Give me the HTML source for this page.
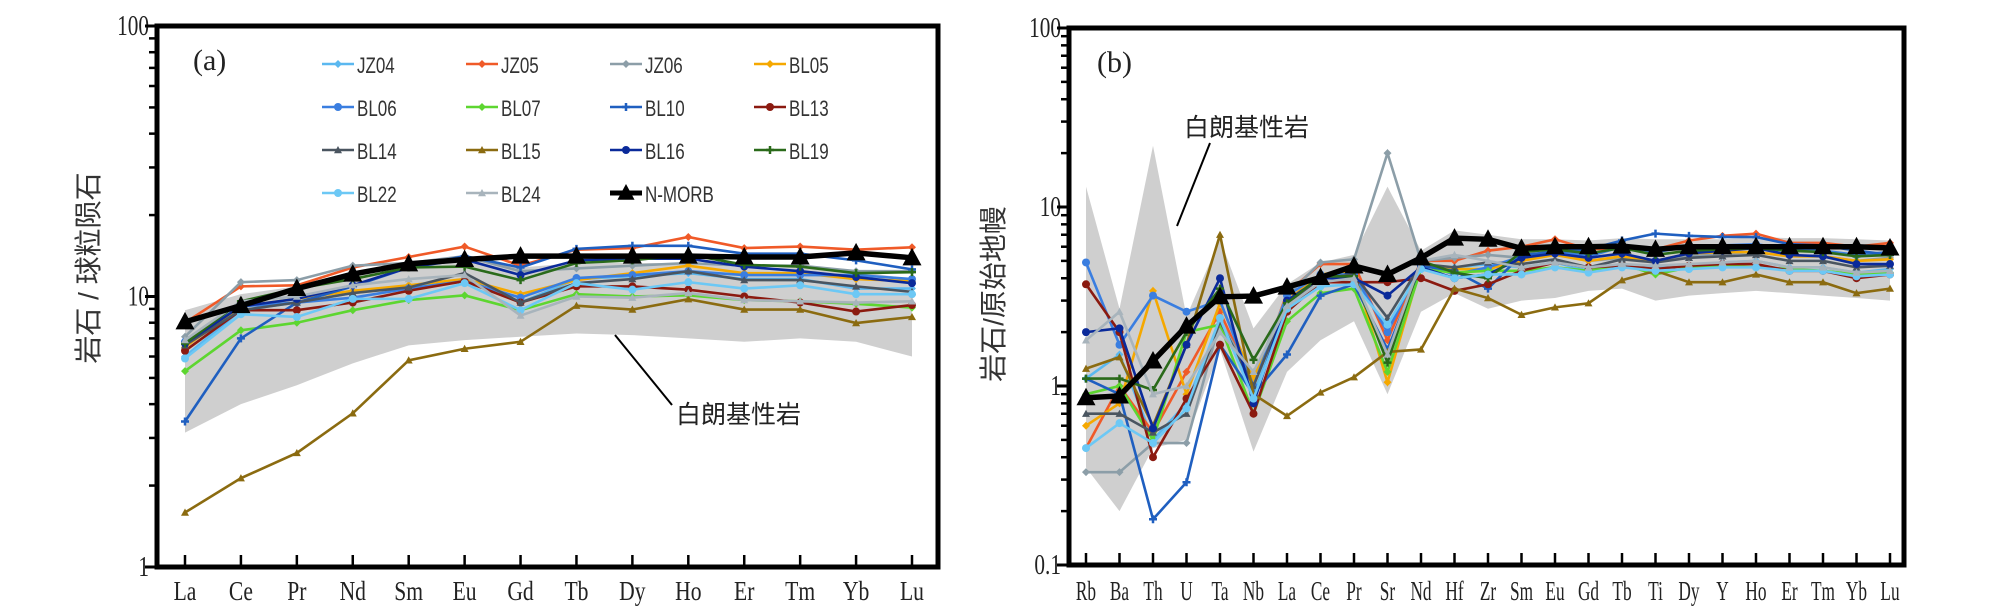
<!DOCTYPE html>
<html><head><meta charset="utf-8"><style>
html,body{margin:0;padding:0;background:#fff;width:2008px;height:607px;overflow:hidden}
svg{display:block}
</style></head><body>
<svg id="c" width="2008" height="607" xmlns="http://www.w3.org/2000/svg"></svg>
<script>
const reeCats=["La","Ce","Pr","Nd","Sm","Eu","Gd","Tb","Dy","Ho","Er","Tm","Yb","Lu"];
const spiderCats=["Rb","Ba","Th","U","Ta","Nb","La","Ce","Pr","Sr","Nd","Hf","Zr","Sm","Eu","Gd","Tb","Ti","Dy","Y","Ho","Er","Tm","Yb","Lu"];
const seriesNames=["JZ04","JZ05","JZ06","BL05","BL06","BL07","BL10","BL13","BL14","BL15","BL16","BL19","BL22","BL24"];
const seriesColors=["#5bb8f0","#f05a28","#8c9ea8","#f5a800","#3a7ee0","#5dd630","#1f5fc0","#8b1a10","#4a5560","#8b6b10","#0a2a9a","#2a6a1a","#6cc8f5","#a8b4bc"];
const seriesMarkers=["d","d","d","d","o","d","+","o","t","t","o","+","o","t"];
const reeJZ04=[6.0,8.9,9.5,10.3,10.9,11.6,9.5,11.6,11.9,12.2,11.6,11.6,10.7,10.7];
const reeJZ05=[8.0,10.9,11.0,12.8,14.0,15.3,13.0,14.9,15.1,16.6,15.1,15.3,14.9,15.2];
const reeJZ06=[7.1,11.3,11.5,13.0,13.3,14.1,12.4,12.7,13.0,13.3,13.0,13.0,12.4,12.4];
const reeBL05=[6.5,9.2,9.8,10.5,11.0,11.6,10.2,11.5,12.2,13.0,12.2,12.2,11.6,11.4];
const reeBL06=[6.8,9.2,9.5,9.9,10.7,11.4,9.9,11.7,12.0,12.4,12.0,12.0,12.0,11.6];
const reeBL07=[5.3,7.5,8.0,8.9,9.7,10.1,8.9,10.2,10.0,10.1,9.7,9.6,9.4,9.1];
const reeBL10=[3.45,7.0,9.5,10.9,12.8,14.1,12.8,15.0,15.4,15.4,14.4,14.4,13.6,12.6];
const reeBL13=[6.3,8.9,8.9,9.5,10.5,11.4,9.5,10.9,10.9,10.6,10.0,9.5,8.8,9.3];
const reeBL14=[6.6,8.9,9.5,10.3,10.8,12.2,9.5,11.2,11.6,12.4,11.5,11.5,10.9,10.4];
const reeBL15=[1.59,2.13,2.64,3.70,5.81,6.41,6.80,9.25,8.95,9.77,8.95,8.95,7.98,8.4];
const reeBL16=[6.7,9.2,9.8,11.0,12.8,13.7,12.0,13.6,13.8,13.8,12.9,12.4,11.8,11.2];
const reeBL19=[6.7,9.6,10.7,11.6,12.8,12.9,11.5,13.3,13.6,14.3,13.1,12.9,12.2,12.3];
const reeBL22=[5.9,8.6,8.4,9.8,9.8,11.2,8.9,11.2,10.6,11.3,10.7,11.0,10.2,10.2];
const reeBL24=[6.9,9.6,10.0,11.0,11.6,12.0,8.5,10.0,9.9,10.3,9.7,9.6,9.5,9.6];
const reeNMORB=[8.06,9.25,10.7,12.1,13.2,13.7,14.1,14.1,14.1,14.1,14.0,14.0,14.5,13.9];
const reeBandHi=[8.9,10.2,10.9,12.4,13.3,13.7,12.8,13.3,13.3,13.3,12.8,12.8,12.4,11.6];
const reeBandLo=[3.14,4.0,4.7,5.66,6.6,6.9,7.1,7.3,7.2,7.0,6.8,7.0,6.8,6.0];
const spJZ04=[1.1,1.5,0.5,0.8,2.3,0.9,2.7,3.8,4.0,2.1,4.6,4.6,4.8,4.6,4.9,4.4,4.7,4.6,4.7,4.9,5.0,4.6,4.6,4.3,4.5];
const spJZ05=[0.45,1.0,0.55,1.2,2.6,1.0,3.3,4.8,4.8,1.8,5.0,5.0,5.7,6.0,6.6,5.8,5.9,5.8,6.5,6.9,7.1,6.3,6.3,6.0,6.3];
const spJZ06=[0.33,0.33,0.48,0.48,2.3,1.1,3.2,4.9,5.1,20,5.0,5.2,5.4,5.2,5.5,5.0,5.2,5.0,5.3,5.5,5.6,5.3,5.3,5.0,5.2];
const spBL05=[0.6,0.8,3.4,0.9,2.9,1.1,3.0,4.2,4.4,1.05,4.7,4.5,4.5,5.0,5.4,5.0,5.3,5.0,5.5,5.6,5.6,5.3,5.3,5.0,5.1];
const spBL06=[4.9,1.7,3.2,2.6,3.0,1.0,3.2,4.2,4.2,2.0,4.8,4.2,4.6,5.3,5.7,5.3,6.0,5.6,6.0,6.1,6.2,5.8,5.7,5.4,5.6];
const spBL07=[0.9,1.0,0.5,2.0,2.2,0.7,2.3,3.3,3.5,1.2,4.5,4.3,4.4,4.4,4.6,4.4,4.8,4.2,4.6,4.7,4.6,4.5,4.4,4.2,4.3];
const spBL10=[1.1,0.9,0.18,0.29,1.7,0.9,1.5,3.2,3.7,1.6,4.7,4.4,3.5,5.4,5.6,5.8,6.5,7.1,6.9,6.8,6.8,6.2,6.1,5.7,5.4];
const spBL13=[3.7,2.0,0.4,0.85,1.7,0.7,2.6,3.8,3.8,3.8,4.0,3.4,3.7,4.4,4.9,4.6,4.7,4.5,4.7,4.8,4.8,4.4,4.4,4.0,4.2];
const spBL14=[0.7,0.7,0.55,0.7,2.3,1.0,2.9,4.0,4.2,2.4,4.8,4.6,4.9,4.8,5.1,4.6,5.1,4.9,5.2,5.3,5.4,5.0,5.0,4.6,4.7];
const spBL15=[1.25,1.45,0.6,1.7,7.0,0.9,0.68,0.92,1.12,1.55,1.6,3.5,3.1,2.5,2.75,2.9,3.9,4.4,3.8,3.8,4.2,3.8,3.8,3.3,3.5];
const spBL16=[2.0,2.1,0.58,1.7,4.0,0.8,3.0,4.0,4.0,3.2,4.6,4.0,4.2,5.2,5.5,5.2,5.5,5.0,5.5,5.7,5.9,5.4,5.3,4.8,4.8];
const spBL19=[1.1,1.1,0.95,2.0,3.5,1.4,2.9,4.1,4.1,1.35,5.0,4.3,4.0,5.6,5.8,5.5,5.9,5.4,5.7,5.8,5.9,5.7,5.6,5.3,5.4];
const spBL22=[0.45,0.62,0.48,0.75,2.4,0.85,2.7,3.6,3.7,2.2,4.5,4.0,4.2,4.2,4.6,4.3,4.6,4.4,4.5,4.6,4.6,4.4,4.4,4.1,4.2];
const spBL24=[1.8,2.6,0.9,1.0,2.0,1.2,2.8,3.8,4.0,1.5,5.0,5.4,5.0,4.6,4.9,4.6,4.8,4.7,4.8,4.9,5.0,4.6,4.6,4.3,4.4];
const spNMORB=[0.86,0.88,1.38,2.16,3.15,3.18,3.57,4.04,4.68,4.2,5.2,6.7,6.6,5.87,6.0,6.0,6.05,5.8,6.0,6.0,6.0,6.0,6.0,6.0,5.9];
const spBandHi=[13,2.7,22,2.45,6.6,2.1,3.7,4.9,5.4,13,5.7,7.4,7.0,6.6,6.6,6.5,6.7,6.6,6.6,6.6,6.8,6.7,6.7,6.6,6.5];
const spBandLo=[0.35,0.2,0.45,0.5,1.6,0.43,1.2,1.8,2.3,0.9,2.6,3.3,2.7,3.0,3.1,3.4,3.5,3.0,3.2,3.3,3.4,3.3,3.2,3.1,3.0];
const reeSeries=[reeJZ04,reeJZ05,reeJZ06,reeBL05,reeBL06,reeBL07,reeBL10,reeBL13,reeBL14,reeBL15,reeBL16,reeBL19,reeBL22,reeBL24];
const spSeries=[spJZ04,spJZ05,spJZ06,spBL05,spBL06,spBL07,spBL10,spBL13,spBL14,spBL15,spBL16,spBL19,spBL22,spBL24];

const svg=document.getElementById('c');
const NS="http://www.w3.org/2000/svg";
function mk(tag,attrs,parent){const e=document.createElementNS(NS,tag);for(const k in attrs)e.setAttribute(k,attrs[k]);(parent||svg).appendChild(e);return e;}
const serif='"Liberation Serif",serif';
const cjk='"Liberation Sans","Noto Sans CJK SC",sans-serif';

function panel(cfg){
  const g=mk('g',{});
  
  
  const {L,R,T,B,lo,hi,cats}=cfg;
  const step=(cfg.x1-cfg.x0)/(cats.length-1);
  const X=i=>cfg.x0+i*step;
  const Y=v=>B-(Math.log10(v)-Math.log10(lo))/(Math.log10(hi)-Math.log10(lo))*(B-T);
  // band
  let d='';
  cfg.bandHi.forEach((v,i)=>{d+=(i?'L':'M')+X(i)+' '+Y(v);});
  for(let i=cfg.bandLo.length-1;i>=0;i--)d+='L'+X(i)+' '+Y(cfg.bandLo[i]);
  const band=mk('path',{d:d+'Z',fill:'#cfcfcf'},g);
  
  
  // series
  cfg.series.forEach((arr,s)=>{
    const sg=mk('g',{},g);
    
    
    const pts=arr.map((v,i)=>X(i)+','+Y(v)).join(' ');
    mk('polyline',{points:pts,fill:'none',stroke:seriesColors[s],'stroke-width':2.6},sg);
    arr.forEach((v,i)=>marker(sg,seriesMarkers[s],X(i),Y(v),seriesColors[s],4));
  });
  const ng=mk('g',{},g);
  
  
  mk('polyline',{points:cfg.nmorb.map((v,i)=>X(i)+','+Y(v)).join(' '),fill:'none',stroke:'#000','stroke-width':5.5},ng);
  cfg.nmorb.forEach((v,i)=>marker(ng,'T',X(i),Y(v),'#000',10));
  // frame
  const fr=mk('rect',{x:L,y:T,width:R-L,height:B-T,fill:'none',stroke:'#000','stroke-width':5},g);
  
  
  // y ticks
  const dec0=Math.round(Math.log10(lo)),dec1=Math.round(Math.log10(hi));
  for(let e=dec0;e<=dec1;e++){
    const base=Math.pow(10,e);
    const lab=mk('text',{x:L-8,y:Y(base)+8,'text-anchor':'end','font-family':serif,'font-size':25,fill:'#222',transform:`translate(${L-8},${Y(base)}) scale(0.85,1.15) translate(${-(L-8)},${-Y(base)})`},g);
    lab.textContent=base<1?base.toFixed(1):String(base);
    
    
    if(e<dec1)for(let m=2;m<=9;m++){const y=Y(base*m);mk('line',{x1:L-8,x2:L,y1:y,y2:y,stroke:'#000','stroke-width':2.5},g);}
    mk('line',{x1:L-12,x2:L,y1:Y(base),y2:Y(base),stroke:'#000','stroke-width':3},g);
  }
  cats.forEach((c,i)=>{
    mk('line',{x1:X(i),x2:X(i),y1:B,y2:B-12,stroke:'#000','stroke-width':2.5},g);
    const t=mk('text',{x:X(i),y:cfg.labY,'text-anchor':'middle','font-family':serif,'font-size':cfg.labFs,fill:'#222',transform:`translate(${X(i)},${cfg.labY}) scale(${cfg.labSx},1.15) translate(${-X(i)},${-cfg.labY})`},g);
    t.textContent=c;
    
    
  });
  return g;
}
function marker(p,type,x,y,col,r){
  if(type==='d')mk('path',{d:`M${x} ${y-r}L${x+r} ${y}L${x} ${y+r}L${x-r} ${y}Z`,fill:col},p);
  else if(type==='o')mk('circle',{cx:x,cy:y,r:r,fill:col},p);
  else if(type==='+')mk('path',{d:`M${x-r} ${y}H${x+r}M${x} ${y-r}V${y+r}`,stroke:col,'stroke-width':2.5},p);
  else if(type==='t')mk('path',{d:`M${x} ${y-r}L${x+r} ${y+r*0.8}L${x-r} ${y+r*0.8}Z`,fill:col},p);
  else if(type==='T')mk('path',{d:`M${x} ${y-r}L${x+r*0.95} ${y+r*0.75}L${x-r*0.95} ${y+r*0.75}Z`,fill:col},p);
}
panel({name:'panel-a-ree',L:157,R:938,T:26,B:567,lo:1,hi:100,cats:reeCats,x0:185,x1:912,
  bandHi:reeBandHi,bandLo:reeBandLo,series:reeSeries,nmorb:reeNMORB,labY:600,labFs:24,labSx:0.9});
panel({name:'panel-b-spider',L:1069,R:1904,T:28,B:565,lo:0.1,hi:100,cats:spiderCats,x0:1086,x1:1890,
  bandHi:spBandHi,bandLo:spBandLo,series:spSeries,nmorb:spNMORB,labY:600,labFs:24,labSx:0.72});

// legend
const lg=mk('g',{});


const names=seriesNames.concat(['N-MORB']);
names.forEach((n,i)=>{
  const col=i%4,row=Math.floor(i/4);
  const x=322+col*144,y=64+row*43;
  const e=mk('g',{},lg);
  
  
  const c=i<14?seriesColors[i]:'#000';
  mk('line',{x1:x,x2:x+32,y1:y,y2:y,stroke:c,'stroke-width':i<14?2.6:5},e);
  marker(e,i<14?seriesMarkers[i]:'T',x+16,y,c,i<14?4:9);
  const t=mk('text',{x:x+35,y:y+8,'font-family':'"Liberation Sans",sans-serif','font-size':20,fill:'#333',transform:`translate(${x+35},${y}) scale(0.85,1.1) translate(${-(x+35)},${-y})`},e);
  t.textContent=n;
});
function txt(s,x,y,fs,name,fam,extra){const t=mk('text',Object.assign({x:x,y:y,'font-family':fam,'font-size':fs,fill:'#222'},extra||{}));t.textContent=s;return t;}
txt('(a)',193,70,30,'panel-a-label',serif);
txt('(b)',1097,72,30,'panel-b-label',serif);
txt('白朗基性岩',676,423,25,'annotation-basic-rock-a',cjk);
txt('白朗基性岩',1184,136,25,'annotation-basic-rock-b',cjk);
mk('line',{x1:615,y1:335,x2:672,y2:405,stroke:'#000','stroke-width':2});
mk('line',{x1:1210,y1:143,x2:1177,y2:226,stroke:'#000','stroke-width':2});
txt('岩石 / 球粒陨石',0,0,28,'y-axis-title-a',cjk,{transform:'translate(98,268) rotate(-90)','text-anchor':'middle',fill:'#333'});
txt('岩石/原始地幔',0,0,28,'y-axis-title-b',cjk,{transform:'translate(1003,294) rotate(-90)','text-anchor':'middle',fill:'#333'});
</script>
</body></html>
